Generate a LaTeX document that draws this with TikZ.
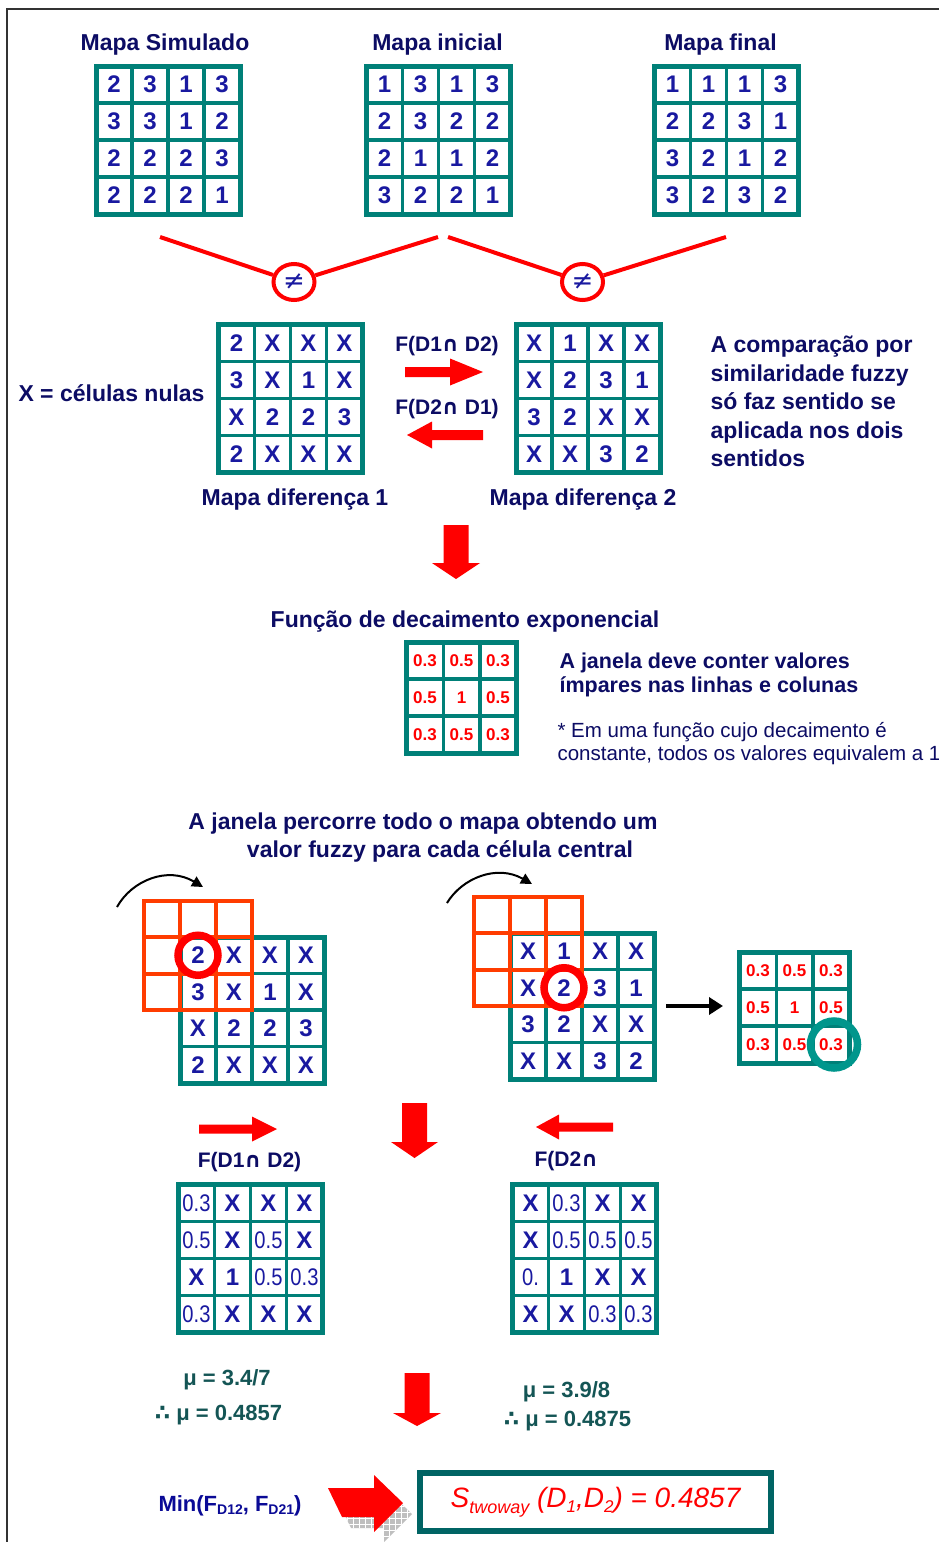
\documentclass[tikz,border=0pt]{standalone}
\usepackage{fontspec}
\setmainfont{Liberation Sans}
\newfontfamily\djv{DejaVu Sans}
\newfontfamily\narrowsans[FakeStretch=0.84]{Liberation Sans}
\usetikzlibrary{matrix,arrows.meta,shapes.geometric}
\definecolor{navy}{RGB}{12,12,100}
\definecolor{numblue}{RGB}{25,25,160}
\definecolor{tealc}{RGB}{0,128,120}
\definecolor{tealring}{RGB}{0,150,140}
\definecolor{tealdark}{RGB}{0,100,100}
\definecolor{winor}{RGB}{255,60,0}
\definecolor{mucol}{RGB}{20,85,85}
\definecolor{minblue}{RGB}{10,10,150}
\newcommand{\fs}[1]{\fontsize{#1}{#1}\selectfont}
\newcommand{\fv}[1]{{\narrowsans\mdseries\fs{24}#1}}
\newcommand{\darr}[6]{\fill[red] ({#1-#5},#2) -- ({#1+#5},#2) -- ({#1+#5},#3) -- ({#1+#6},#3) -- (#1,#4) -- ({#1-#6},#3) -- ({#1-#5},#3) -- cycle;}
\newcommand{\harr}[6]{\fill[red] (#1,{#4-#5}) -- (#2,{#4-#5}) -- (#2,{#4-#6}) -- (#3,#4) -- (#2,{#4+#6}) -- (#2,{#4+#5}) -- (#1,{#4+#5}) -- cycle;}
\newcommand{\winlines}[2]{\foreach \i in {0,1,2,3}{\draw[winline] ({#1+\i*36},#2) -- ({#1+\i*36},{#2+109.5}); \draw[winline] (#1,{#2+\i*36.5}) -- ({#1+108},{#2+\i*36.5});}}
\begin{document}
\begin{tikzpicture}[x=1pt,y=-1pt,
 gridm/.style={matrix of nodes, inner sep=0pt, outer sep=0pt, row sep=-3.5pt, column sep=-3.5pt,
   nodes={draw=tealc, line width=3.5pt, fill=white, minimum width=36pt, minimum height=37pt,
   inner sep=0pt, outer sep=0pt, anchor=center, text=numblue, font=\fs{24}\bfseries}},
 kernm/.style={gridm, nodes={minimum width=36.5pt, text=red, font=\fs{17}\bfseries}},
 outerb/.style={draw=tealc, line width=5pt},
 title/.style={font=\fs{23}\bfseries, text=navy, anchor=base},
 redline/.style={red, line width=4pt},
 neq/.style={draw=red, line width=4pt, ellipse, minimum width=41pt, minimum height=36pt, inner sep=0pt, text=numblue, font=\djv\fs{26}},
 winline/.style={draw=winor, line width=4pt, line cap=rect},
 curvarr/.style={black, line width=2pt, -{Triangle[length=11pt,width=11pt]}},
 ringr/.style={circle, draw=red, line width=7.5pt, minimum size=40pt, inner sep=0pt},
 ringt/.style={circle, draw=tealring, line width=7.5pt, minimum size=47pt, inner sep=0pt},
 mu/.style={font=\fs{22}\bfseries, text=mucol, anchor=base},
 flab/.style={font=\fs{21}\bfseries, text=navy, anchor=base}]
\useasboundingbox (0,0) rectangle (939,1542);
\fill[white] (0,0) rectangle (939,1542);
\draw[line width=2pt, black!80] (7,1542) -- (7,9) -- (939,9);

% top maps
\node[title] (tA) at (165,50) {Mapa Simulado};
\node[title] (tB) at (437.5,50) {Mapa inicial};
\node[title] (tC) at (720.5,50) {Mapa final};
\matrix (A) [gridm] at (168,140) {2 & 3 & 1 & 3\\ 3 & 3 & 1 & 2\\ 2 & 2 & 2 & 3\\ 2 & 2 & 2 & 1\\};
\draw[outerb] (A-1-1.north west) rectangle (A-4-4.south east);
\matrix (B) [gridm] at (438.5,140) {1 & 3 & 1 & 3\\ 2 & 3 & 2 & 2\\ 2 & 1 & 1 & 2\\ 3 & 2 & 2 & 1\\};
\draw[outerb] (B-1-1.north west) rectangle (B-4-4.south east);
\matrix (C) [gridm] at (726.5,140) {1 & 1 & 1 & 3\\ 2 & 2 & 3 & 1\\ 3 & 2 & 1 & 2\\ 3 & 2 & 3 & 2\\};
\draw[outerb] (C-1-1.north west) rectangle (C-4-4.south east);

% not-equal comparisons
\coordinate (v1a) at (160,237); \coordinate (v1b) at (438,237);
\coordinate (v2a) at (448,237); \coordinate (v2b) at (726,237);
\node[neq] (ne1) at (294,282) {≠};
\node[neq] (ne2) at (582.5,282) {≠};
\draw[redline] (v1a) -- (ne1); \draw[redline] (ne1) -- (v1b);
\draw[redline] (v2a) -- (ne2); \draw[redline] (ne2) -- (v2b);

% difference maps
\node[title, anchor=base west] (xlab) at (15,401) {X = células nulas};
\matrix (D1) [gridm] at (290.5,398.5) {2 & X & X & X\\ 3 & X & 1 & X\\ X & 2 & 2 & 3\\ 2 & X & X & X\\};
\draw[outerb] (D1-1-1.north west) rectangle (D1-4-4.south east);
\matrix (D2) [gridm] at (588,398.5) {X & 1 & X & X\\ X & 2 & 3 & 1\\ 3 & 2 & X & X\\ X & X & 3 & 2\\};
\draw[outerb] (D2-1-1.north west) rectangle (D2-4-4.south east);
\node[flab] (f12) at (447,351) {F(D1{\djv ∩} D2)};
\node[flab] (f21) at (447,414) {F(D2{\djv ∩} D1)};
\harr{405}{450}{483}{372}{5}{13.5}
\harr{483}{432}{407}{435}{5}{13.5}
\node[title] (md1) at (295,505) {Mapa diferença 1};
\node[title] (md2) at (583,505) {Mapa diferença 2};
\node[title, anchor=base west] (cp1) at (707,352) {A comparação por};
\node[title, anchor=base west] (cp2) at (707,381) {similaridade fuzzy};
\node[title, anchor=base west] (cp3) at (707,409) {só faz sentido se};
\node[title, anchor=base west] (cp4) at (707,438) {aplicada nos dois};
\node[title, anchor=base west] (cp5) at (707,466) {sentidos};
\darr{456}{525}{563}{579}{12.5}{24}

% decay function
\node[title] (fde) at (465,627) {Função de decaimento exponencial};
\matrix (K1) [kernm] at (461.5,697.5) {0.3 & 0.5 & 0.3\\ 0.5 & 1 & 0.5\\ 0.3 & 0.5 & 0.3\\};
\draw[outerb] (K1-1-1.north west) rectangle (K1-3-3.south east);
\node[font=\fs{21.5}\bfseries, text=navy, anchor=base west] (jn1) at (556,668) {A janela deve conter valores};
\node[font=\fs{21.5}\bfseries, text=navy, anchor=base west] (jn2) at (556,692) {ímpares nas linhas e colunas};
\node[font=\fs{20.5}, text=navy, anchor=base west] (em1) at (554,737) {* Em uma função cujo decaimento é};
\node[font=\fs{20.5}, text=navy, anchor=base west] (em2) at (554,760) {constante, todos os valores equivalem a 1};

% moving window
\node[title] (jp1) at (423,829) {A janela percorre todo o mapa obtendo um};
\node[title] (jp2) at (440,857) {valor fuzzy para cada célula central};
\matrix (W1) [gridm, nodes={minimum height=36.5pt}] at (252,1010) {2 & X & X & X\\ 3 & X & 1 & X\\ X & 2 & 2 & 3\\ 2 & X & X & X\\};
\draw[outerb] (W1-1-1.north west) rectangle (W1-4-4.south east);
\winlines{144}{900.5}
\node[ringr] (rc1) at (W1-1-1) {};
\matrix (W2) [gridm, nodes={minimum height=36.5pt}] at (582,1006) {X & 1 & X & X\\ X & 2 & 3 & 1\\ 3 & 2 & X & X\\ X & X & 3 & 2\\};
\draw[outerb] (W2-1-1.north west) rectangle (W2-4-4.south east);
\winlines{474}{896.5}
\node[ringr] (rc2) at (W2-2-2) {};
\coordinate (ca1) at (117,907); \coordinate (ca2) at (203,887);
\draw[curvarr] (ca1) .. controls (132,880) and (168,866) .. (ca2);
\coordinate (cb1) at (447,903); \coordinate (cb2) at (532,884);
\draw[curvarr] (cb1) .. controls (462,878) and (497,864) .. (cb2);
\matrix (K2) [kernm] at (794.5,1007.5) {0.3 & 0.5 & 0.3\\ 0.5 & 1 & 0.5\\ 0.3 & 0.5 & 0.3\\};
\draw[outerb] (K2-1-1.north west) rectangle (K2-3-3.south east);
\node[ringt] (rt) at ([xshift=3pt]K2-3-3) {};
\coordinate (bk1) at (666,1006); \coordinate (bk2) at (723,1006);
\draw[line width=4pt, -{Triangle[length=14pt,width=17pt]}] (bk1) -- (bk2);

% fuzzy results
\harr{199}{252}{277}{1129}{4.5}{12.5}
\harr{613}{559}{536}{1127}{4.5}{12.5}
\darr{414.5}{1103}{1142}{1158}{12.5}{23.5}
\node[flab] (lf12) at (249.5,1167) {F(D1{\djv ∩} D2)};
\node[flab, anchor=base west] (lf21) at (531,1166) {F(D2{\djv ∩}};
\matrix (L1) [gridm] at (250.5,1258.5) {\fv{0.3} & X & X & X\\ \fv{0.5} & X & \fv{0.5} & X\\ X & 1 & \fv{0.5} & \fv{0.3}\\ \fv{0.3} & X & X & X\\};
\draw[outerb] (L1-1-1.north west) rectangle (L1-4-4.south east);
\matrix (L2) [gridm] at (584.5,1258.5) {X & \fv{0.3} & X & X\\ X & \fv{0.5} & \fv{0.5} & \fv{0.5}\\ \fv{0.} & 1 & X & X\\ X & X & \fv{0.3} & \fv{0.3}\\};
\draw[outerb] (L2-1-1.north west) rectangle (L2-4-4.south east);

\node[mu] (mu1) at (227,1385) {μ = 3.4/7};
\node[mu] (mu2) at (218.5,1420) {{\djv ∴} μ = 0.4857};
\node[mu] (mu3) at (566.5,1397) {μ = 3.9/8};
\node[mu] (mu4) at (567.5,1426) {{\djv ∴} μ = 0.4875};
\darr{417}{1373}{1413}{1426}{12.5}{24}

% final
\node[font=\fs{22}\bfseries, text=minblue, anchor=base] (minl) at (230,1511) {Min(F\raisebox{-3pt}{\fs{14}D12}, F\raisebox{-3pt}{\fs{14}D21})};
\begin{scope}[shift={(9,11)}]
 \clip (328,1488) -- (374,1488) -- (374,1475) -- (403,1503) -- (374,1532) -- (374,1517) -- (342,1517) -- cycle;
 \fill[gray!50] (320,1465) rectangle (410,1540);
 \foreach \k in {0,...,15} {\draw[white, line width=0.8pt] ({320+\k*6},1465) -- ({320+\k*6},1540); \draw[white, line width=0.8pt] (320,{1465+\k*6}) -- (410,{1465+\k*6});}
\end{scope}
\fill[red] (328,1488) -- (374,1488) -- (374,1475) -- (403,1503) -- (374,1532) -- (374,1517) -- (342,1517) -- cycle;
\node[draw=tealdark, line width=6pt, minimum width=351pt, minimum height=58pt, inner sep=0pt, text=red, font=\fs{28}\itshape] (res) at (595.5,1502) {S\raisebox{-6pt}{\fs{18}twoway} (D\raisebox{-5pt}{\fs{17}1},D\raisebox{-5pt}{\fs{17}2}) = 0.4857};
\end{tikzpicture}
\end{document}
